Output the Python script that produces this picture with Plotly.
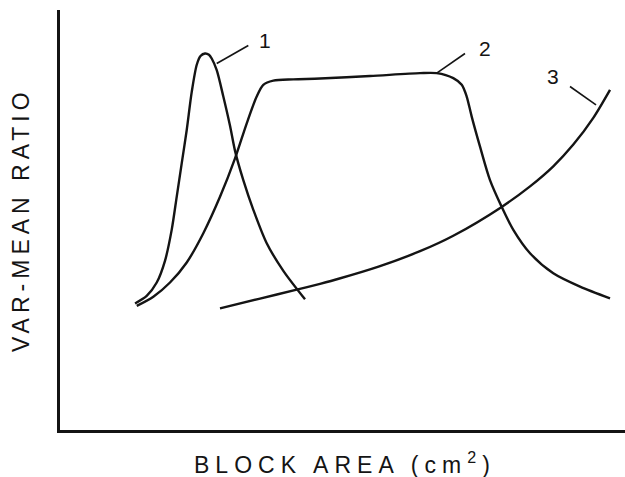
import plotly.graph_objects as go

# Arbitrary units (schematic chart, no tick values), 0-100 on both axes
curve1_x = [12.97, 15.04, 16.82, 18.29, 19.48, 20.37, 21.26, 22.15, 23.04, 23.93, 24.6, 25.40, 26.1, 26.59, 27.48,
            28.65, 29.84, 30.73, 32.20, 33.98, 36.36, 39.31, 43.16]
curve1_y = [29.8, 31.6, 34.8, 40.0, 47.4, 55.3, 63.3, 71.3, 80.4, 86.9, 89.0, 89.6, 89.3, 88.4, 85.6,
            79.3, 72.3, 66.3, 59.3, 52.2, 44.2, 37.6, 30.8]

curve2_x = [13.27, 16.22, 19.18, 22.15, 25.10, 28.06, 30.73, 32.81, 34.58, 35.75, 37.53, 41.08, 45.83, 54.71,
            63.59, 66.55, 69.50, 71.00, 71.88, 72.77, 74.25, 76.02, 78.10, 80.16, 83.13, 87.26, 92.01, 97.34]
curve2_y = [29.2, 31.4, 34.8, 39.6, 46.6, 55.3, 64.5, 72.9, 79.3, 82.1, 83.1, 83.4, 83.6, 84.2,
            84.9, 84.9, 83.7, 82.1, 79.3, 74.5, 67.3, 59.3, 52.9, 47.4, 41.8, 37.0, 33.8, 31.0]

curve3_x = [28.06, 34.99, 41.69, 45.83, 49.13, 56.22, 63.59, 69.50, 78.10, 83.13, 87.26, 90.82, 94.37, 97.34]
curve3_y = [28.6, 30.9, 33.1, 34.5, 35.7, 38.6, 42.3, 46.0, 52.9, 57.8, 62.6, 67.8, 74.2, 80.9]

curve_labels = ["1", "2", "3"]
label_x = [36.06, 75.13, 87.16]
label_y = [92.8, 90.8, 84.2]
leader_x0 = [27.48, 66.55, 90.23]
leader_y0 = [87.2, 84.9, 81.7]
leader_x1 = [33.09, 71.58, 94.85]
leader_y1 = [91.5, 89.6, 77.3]

x_title = "BLOCK AREA (cm<sup>2</sup>)"
y_title = "VAR-MEAN RATIO"

INK = "#141414"
FONT = "Liberation Sans, Arial, Helvetica, sans-serif"

fig = go.Figure()
for xs, ys in [(curve1_x, curve1_y), (curve2_x, curve2_y), (curve3_x, curve3_y)]:
    fig.add_trace(go.Scatter(x=xs, y=ys, mode="lines",
                             line=dict(color=INK, width=2.4, shape="spline", smoothing=0.8),
                             hoverinfo="skip", showlegend=False))

for i in range(3):
    fig.add_trace(go.Scatter(x=[leader_x0[i], leader_x1[i]], y=[leader_y0[i], leader_y1[i]],
                             mode="lines", line=dict(color=INK, width=1.6),
                             hoverinfo="skip", showlegend=False))
    fig.add_annotation(x=label_x[i], y=label_y[i], text=curve_labels[i], showarrow=False,
                       font=dict(family=FONT, size=21, color=INK))

# axis titles as annotations (indices 3 and 4)
fig.add_annotation(xref="paper", yref="paper", x=0.505, y=-0.078, xanchor="center", yanchor="middle",
                   text=x_title, showarrow=False, font=dict(family=FONT, size=23, color=INK))
fig.add_annotation(xref="paper", yref="paper", x=-0.069, y=0.5, xanchor="center", yanchor="middle",
                   textangle=-90, text=y_title, showarrow=False, font=dict(family=FONT, size=23, color=INK))

fig.update_layout(
    width=625, height=477,
    margin=dict(l=60, r=0, t=10, b=47),
    paper_bgcolor="white", plot_bgcolor="white",
    xaxis=dict(range=[-0.36, 100], showgrid=False, zeroline=False, showticklabels=False, ticks="",
               showline=True, linecolor=INK, linewidth=3),
    yaxis=dict(range=[-0.48, 100], showgrid=False, zeroline=False, showticklabels=False, ticks="",
               showline=True, linecolor=INK, linewidth=3),
)

css = ("<style>.annotation[data-index=\"3\"] text { letter-spacing: 6px; } "
       ".annotation[data-index=\"4\"] text { letter-spacing: 5px; }</style>")
fig.write_html("out.html", post_script="document.head.insertAdjacentHTML('beforeend', '" + css + "');")
